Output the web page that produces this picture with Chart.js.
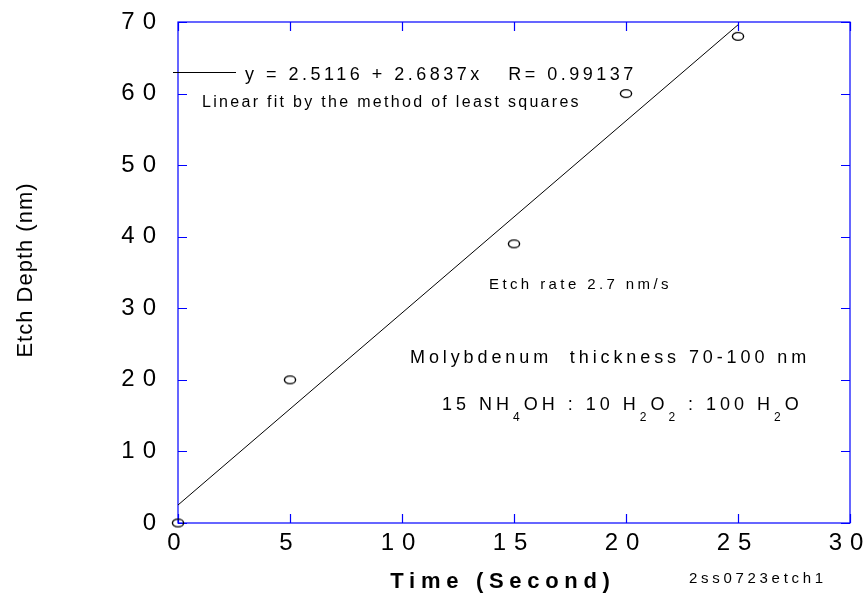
<!DOCTYPE html>
<html>
<head>
<meta charset="utf-8">
<title>Etch Depth vs Time</title>
<script src="https://cdn.jsdelivr.net/npm/chart.js@4.4.1/dist/chart.umd.min.js"></script>
<style>
  html, body { margin: 0; padding: 0; background: #fff; }
  #etchChart { display: block; }
</style>
</head>
<body>
<canvas id="etchChart" width="867" height="596"></canvas>
<script>
// measured points
const timeSec = [0, 5, 15, 20, 25];
const depthNm = [0, 20, 39, 60, 68];

// least squares fit
const fitIntercept = 2.5116;
const fitSlope = 2.6837;
const fitR = 0.99137;
const fitRange = [0, 25];

// axis ticks
const xTickValues = [0, 5, 10, 15, 20, 25, 30];
const yTickValues = [0, 10, 20, 30, 40, 50, 60, 70];

const AXIS_BLUE = '#0000ff';
const FONT = '"Liberation Sans", Arial, sans-serif';

// open ellipse marker
function makeMarker() {
    const c = document.createElement('canvas');
    c.width = 14;
    c.height = 11;
    const g = c.getContext('2d');
    g.strokeStyle = '#000';
    g.lineWidth = 1.4;
    g.beginPath();
    g.ellipse(7, 5.5, 5.6, 3.9, 0, 0, Math.PI * 2);
    g.stroke();
    return c;
}

function toPoints(xs, ys) {
    return xs.map((x, i) => ({ x: x, y: ys[i] }));
}

const fitPoints = fitRange.map(x => ({ x: x, y: fitIntercept + fitSlope * x }));

// text with letter spacing, returns advance width
function spacedText(ctx, text, x, y, font, spacing, align) {
    ctx.save();
    ctx.font = font;
    ctx.letterSpacing = spacing + 'px';
    ctx.textAlign = align || 'left';
    ctx.textBaseline = 'alphabetic';
    ctx.fillStyle = '#000';
    ctx.fillText(text, x, y);
    const w = ctx.measureText(text).width;
    ctx.restore();
    return w;
}

// run of text with subscripts
function formulaText(ctx, parts, x, y) {
    let cx = x;
    parts.forEach(p => {
        if (p.sub) {
            cx += spacedText(ctx, p.text, cx, y + 11, '12px ' + FONT, 4);
        } else {
            cx += spacedText(ctx, p.text, cx, y, '18px ' + FONT, 4);
        }
    });
}

const frameAndText = {
    id: 'frameAndText',
    beforeDraw(chart) {
        // tick labels are drawn with wide letter spacing
        chart.ctx.letterSpacing = '8px';
    },
    beforeDatasetsDraw(chart) {
        const ctx = chart.ctx;
        ctx.letterSpacing = '0px';

        const area = chart.chartArea;
        const xs = chart.scales.x;
        const ys = chart.scales.y;
        const tick = 9;

        ctx.save();
        ctx.strokeStyle = AXIS_BLUE;
        ctx.lineWidth = 1.2;
        ctx.strokeRect(area.left, area.top, area.right - area.left, area.bottom - area.top);

        // inward ticks on all four sides
        ctx.beginPath();
        xTickValues.forEach(v => {
            const px = Math.round(xs.getPixelForValue(v)) + 0.5;
            ctx.moveTo(px, area.bottom);
            ctx.lineTo(px, area.bottom - tick);
            ctx.moveTo(px, area.top);
            ctx.lineTo(px, area.top + tick);
        });
        yTickValues.forEach(v => {
            const py = Math.round(ys.getPixelForValue(v)) + 0.5;
            ctx.moveTo(area.left, py);
            ctx.lineTo(area.left + tick, py);
            ctx.moveTo(area.right, py);
            ctx.lineTo(area.right - tick, py);
        });
        ctx.stroke();

        // legend sample for the fit line
        ctx.strokeStyle = '#000';
        ctx.lineWidth = 1;
        ctx.beginPath();
        ctx.moveTo(173, 72.5);
        ctx.lineTo(236, 72.5);
        ctx.stroke();
        ctx.restore();
    },
    afterDraw(chart) {
        const ctx = chart.ctx;

        spacedText(ctx, 'y = ' + fitIntercept + ' + ' + fitSlope + 'x   R= ' + fitR, 245, 80, '18px ' + FONT, 3.5);
        spacedText(ctx, 'Linear fit by the method of least squares', 202, 107, '16px ' + FONT, 2.3);
        spacedText(ctx, 'Etch rate 2.7 nm/s', 489, 289, '15px ' + FONT, 3.4);
        spacedText(ctx, 'Molybdenum  thickness 70-100 nm', 410, 363, '18px ' + FONT, 3.9);
        formulaText(ctx, [
            { text: '15 NH' }, { text: '4', sub: true }, { text: 'OH : 10 H' },
            { text: '2', sub: true }, { text: 'O' }, { text: '2', sub: true },
            { text: ' : 100 H' }, { text: '2', sub: true }, { text: 'O' }
        ], 442, 410);

        // axis titles
        spacedText(ctx, 'Time (Second)', 503, 588, 'bold 22px ' + FONT, 5.7, 'center');
        spacedText(ctx, '2ss0723etch1', 689, 583, '15px ' + FONT, 3.7);

        ctx.save();
        ctx.translate(32, 270);
        ctx.rotate(-Math.PI / 2);
        spacedText(ctx, 'Etch Depth (nm)', 0, 0, '22px ' + FONT, 1, 'center');
        ctx.restore();
    }
};

new Chart(document.getElementById('etchChart'), {
    type: 'scatter',
    data: {
        datasets: [
            {
                label: 'Etch depth',
                data: toPoints(timeSec, depthNm),
                pointStyle: makeMarker(),
                pointRadius: 5,
                showLine: false,
                clip: false
            },
            {
                label: 'Least squares fit',
                data: fitPoints,
                showLine: true,
                borderColor: '#000',
                borderWidth: 1,
                pointRadius: 0
            }
        ]
    },
    options: {
        responsive: false,
        devicePixelRatio: 1,
        animation: false,
        layout: { padding: { top: 22, right: 17, left: 0, bottom: 0 } },
        plugins: {
            legend: { display: false },
            tooltip: { enabled: false }
        },
        scales: {
            x: {
                type: 'linear',
                min: 0,
                max: 30,
                grid: { display: false, drawTicks: false },
                border: { display: false },
                afterBuildTicks: s => { s.ticks = xTickValues.map(v => ({ value: v })); },
                afterFit: s => { s.height = 73; s.paddingLeft = 0; s.paddingRight = 0; },
                ticks: {
                    padding: 6,
                    color: '#000',
                    font: { family: FONT, size: 24 }
                }
            },
            y: {
                type: 'linear',
                min: 0,
                max: 70,
                grid: { display: false, drawTicks: false },
                border: { display: false },
                afterBuildTicks: s => { s.ticks = yTickValues.map(v => ({ value: v })); },
                afterFit: s => { s.width = 178; s.paddingTop = 0; s.paddingBottom = 0; },
                ticks: {
                    padding: 14,
                    color: '#000',
                    font: { family: FONT, size: 24 }
                }
            }
        }
    },
    plugins: [frameAndText]
});
</script>
</body>
</html>
